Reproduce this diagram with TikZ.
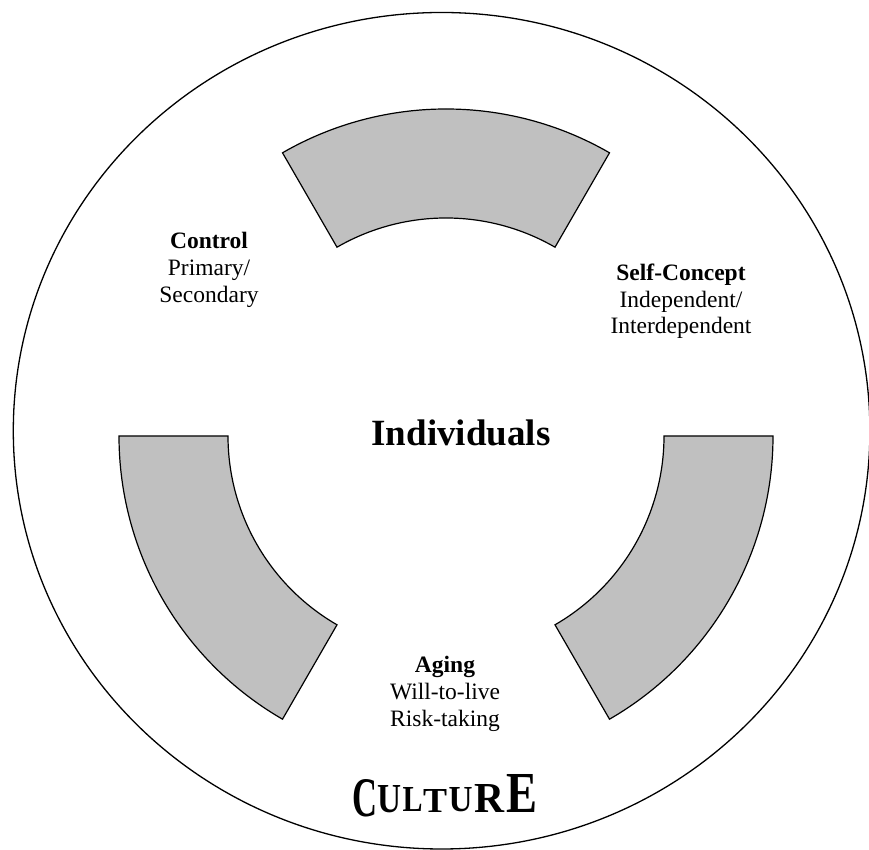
\documentclass[tikz,border=0pt]{standalone}
\usepackage{fontspec}
\setmainfont{Liberation Serif}
\usepackage{graphicx}
\definecolor{sectorgray}{RGB}{192,192,192}
\begin{document}
\begin{tikzpicture}[x=1pt,y=1pt,
  sector/.style={fill=sectorgray, draw=black, line width=1.2pt, line join=miter},
  outer/.style={draw=black, line width=1.3pt},
  lbl/.style={font=\fontsize{23.5}{27}\selectfont, inner sep=0, anchor=base},
  lblb/.style={lbl, font=\fontsize{23.5}{27}\selectfont\bfseries},
  big/.style={font=\fontsize{37}{42}\selectfont\bfseries, inner sep=0, anchor=base},
  cl/.style={inner sep=0, anchor=south}]
\useasboundingbox (0,0) rectangle (869,850);
% culture circle
\draw[outer] (441.6,419.25) ellipse [x radius=428.3, y radius=418.25];
% three annular sectors
\begin{scope}[shift={(446,414)}]
  \draw[sector] (60:327) arc[start angle=60, end angle=120, radius=327]
     -- (120:218) arc[start angle=120, end angle=60, radius=218] -- cycle;
  \draw[sector] (180:327) arc[start angle=180, end angle=240, radius=327]
     -- (240:218) arc[start angle=240, end angle=180, radius=218] -- cycle;
  \draw[sector] (300:327) arc[start angle=300, end angle=360, radius=327]
     -- (360:218) arc[start angle=360, end angle=300, radius=218] -- cycle;
\end{scope}
% labels
\node[big] (indiv) at (461,404) {Individuals};
\node[lblb] (ctrl) at (209,601) {Control};
\node[lbl] (ctrl1) at (209,574) {Primary/};
\node[lbl] (ctrl2) at (209,547) {Secondary};
\node[lblb] (self) at (681,569) {Self-Concept};
\node[lbl] (self1) at (681,542.5) {Independent/};
\node[lbl] (self2) at (681,516) {Interdependent};
\node[lblb] (aging) at (445,177) {Aging};
\node[lbl] (aging1) at (445,150) {Will-to-live};
\node[lbl] (aging2) at (445,123) {Risk-taking};
% CULTURE word-art
\node[cl] (cu1) at (364.5,33) {\resizebox{25pt}{37pt}{\bfseries C}};
\node[cl] (cu2) at (389.5,37) {\resizebox{24pt}{27pt}{\bfseries U}};
\node[cl] (cu3) at (412.5,38) {\resizebox{20pt}{24pt}{\bfseries L}};
\node[cl] (cu4) at (435,37) {\resizebox{24pt}{23pt}{\bfseries T}};
\node[cl] (cu5) at (460.5,38) {\resizebox{24pt}{24pt}{\bfseries U}};
\node[cl] (cu6) at (489,37) {\resizebox{30pt}{28pt}{\bfseries R}};
\node[cl] (cu7) at (522,37) {\resizebox{31pt}{38pt}{\bfseries E}};
\end{tikzpicture}
\end{document}
